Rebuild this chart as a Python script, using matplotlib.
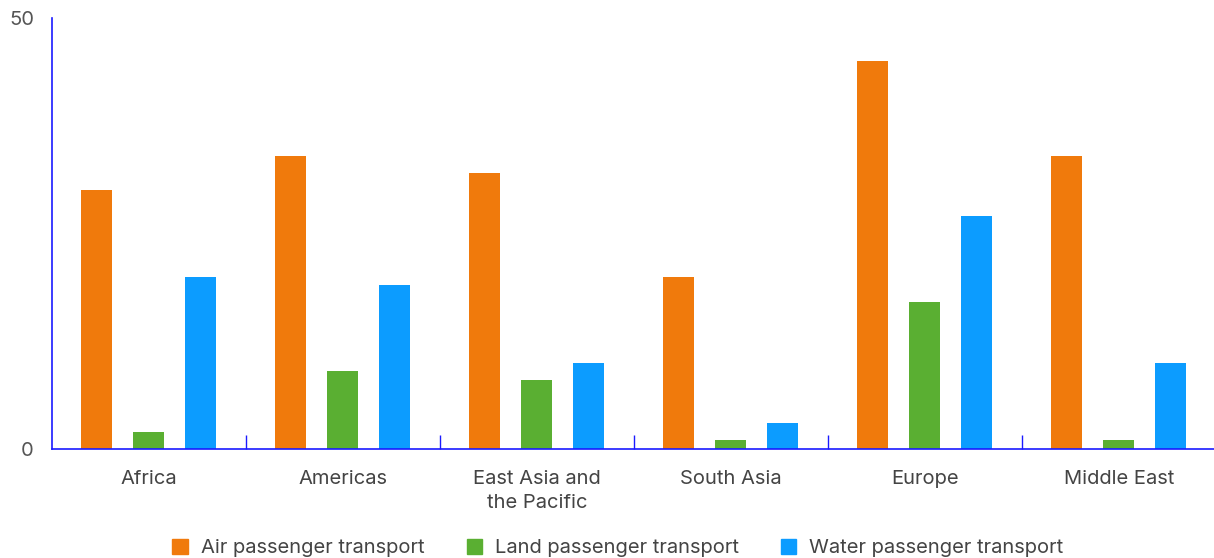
import numpy as np
import matplotlib.pyplot as plt
from matplotlib.patches import Patch

# Data
regions = ["Africa", "Americas", "East Asia and\nthe Pacific", "South Asia", "Europe", "Middle East"]
air = [30, 34, 32, 20, 45, 34]
land = [2, 9, 8, 1, 17, 1]
water = [20, 19, 10, 3, 27, 10]
series_names = ["Air passenger transport", "Land passenger transport", "Water passenger transport"]
colors = ["#F07A0C", "#5AAF32", "#0C9CFF"]

plt.rcParams['font.family'] = ['Inter', 'DejaVu Sans']

fig = plt.figure(figsize=(12.14, 5.58), dpi=100)
ax = fig.add_axes([0.0428, 0.1953, 0.9588, 0.7724])

x = np.arange(len(regions))
offset = 0.268
width = 0.16
for vals, dx, c in zip([air, land, water], [-offset, 0, offset], colors):
    ax.bar(x + dx, vals, width, color=c)

ax.set_xlim(-0.5, len(regions) - 0.5)
ax.set_ylim(0, 50)

# Axis styling
axis_color = "#1a1aff"
for side in ["top", "right"]:
    ax.spines[side].set_visible(False)
for side in ["left", "bottom"]:
    ax.spines[side].set_color(axis_color)
    ax.spines[side].set_linewidth(1.2)

ax.set_yticks([0, 50])
ax.tick_params(axis='y', length=0, pad=13, labelsize=14.5, labelcolor="#555555")

# category labels as minor ticks, separators as major ticks
ax.set_xticks(x[1:] - 0.5)
ax.set_xticklabels([])
ax.tick_params(axis='x', which='major', direction='in', length=10, color=axis_color, width=1)
ax.set_xticks(x, minor=True)
ax.set_xticklabels(regions, minor=True, fontsize=14.5, color="#444444", linespacing=1.45)
ax.tick_params(axis='x', which='minor', length=0, pad=15)

handles = [Patch(color=c, label=n) for c, n in zip(colors, series_names)]
fig.legend(handles=handles, loc='center', bbox_to_anchor=(0.509, 0.018), ncol=3, frameon=False,
           fontsize=14.5, labelcolor="#444444", handlelength=0.75, handleheight=0.75,
           handletextpad=0.65, columnspacing=2.1)

fig.savefig("out.png", dpi=100)
